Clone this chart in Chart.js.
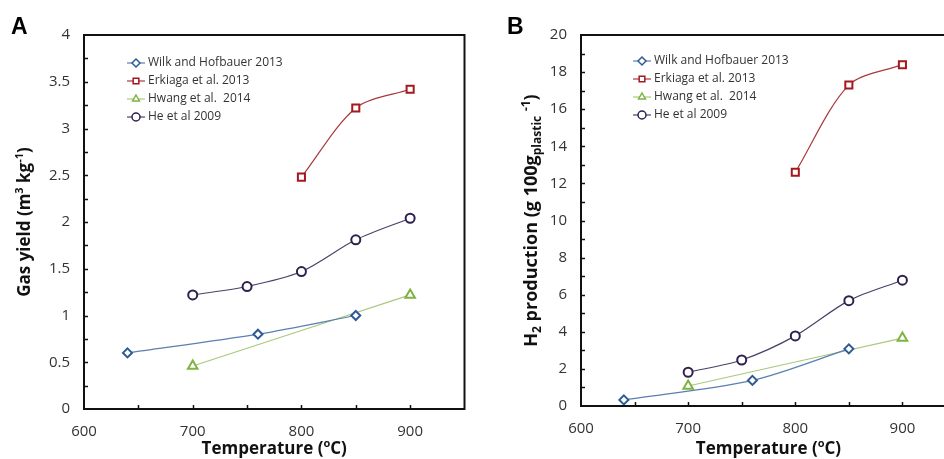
<!DOCTYPE html>
<html>
<head>
<meta charset="utf-8">
<script src="https://cdn.jsdelivr.net/npm/chart.js@4.4.1/dist/chart.umd.min.js"></script>
<style>
  html, body { margin: 0; padding: 0; background: #fff; overflow: hidden; width: 944px; height: 459px; }
  #panelA { position: absolute; left: 0; top: 0; }
  #panelB { position: absolute; left: 472px; top: 0; }
</style>
</head>
<body>
<canvas id="panelA" width="472" height="459"></canvas>
<canvas id="panelB" width="500" height="459"></canvas>
<script>
// series info
const seriesNames = ['Wilk and Hofbauer 2013', 'Erkiaga et al. 2013', 'Hwang et al.  2014', 'He et al 2009'];
const markColors = ['#2f5a96', '#a3191e', '#7fb342', '#2e2150'];
const lineColors = ['#5b7fb1', '#a8393d', '#a9c97c', '#4b4169'];
const pointStyles = ['rectRot', 'rect', 'triangle', 'circle'];
const pointRadii = [4.5, 5, 5.5, 4.5];

// temperatures (°C)
const wilkTemps = [640, 760, 850];
const erkiagaTemps = [800, 850, 900];
const hwangTemps = [700, 900];
const heTemps = [700, 750, 800, 850, 900];

// gas yield (m3/kg)
const wilkGas = [0.60, 0.80, 1.00];
const erkiagaGas = [2.48, 3.22, 3.42];
const hwangGas = [0.46, 1.22];
const heGas = [1.22, 1.31, 1.47, 1.81, 2.04];

// H2 production (g / 100 g plastic)
const wilkH2 = [0.33, 1.38, 3.08];
const erkiagaH2 = [12.6, 17.3, 18.4];
const hwangH2 = [1.08, 3.66];
const heH2 = [1.82, 2.48, 3.78, 5.68, 6.78];

const tempTicks = [600, 700, 800, 900];

const FONT = "'Open Sans', 'Noto Sans', sans-serif";

function series(temps, values, i) {
    return {
        label: seriesNames[i],
        data: temps.map((t, k) => ({ x: t, y: values[k] })),
        borderColor: lineColors[i],
        borderWidth: 1.2,
        pointStyle: pointStyles[i],
        pointRadius: pointRadii[i],
        pointHoverRadius: pointRadii[i],
        pointBorderColor: markColors[i],
        pointBackgroundColor: '#fff',
        pointBorderWidth: 2,
        tension: 0.3,
        fill: false,
    };
}

// text with sub/superscripts: parts = [text, scale, shift]
function drawRich(ctx, parts, cx, cy, size, weight, rotate) {
    ctx.save();
    ctx.translate(cx, cy);
    if (rotate) ctx.rotate(-Math.PI / 2);
    let total = 0;
    parts.forEach(p => {
        ctx.font = weight + ' ' + Math.round(size * p[1]) + 'px ' + FONT;
        total += ctx.measureText(p[0]).width;
    });
    let x = -total / 2;
    ctx.fillStyle = '#111';
    ctx.textBaseline = 'middle';
    ctx.textAlign = 'left';
    parts.forEach(p => {
        ctx.font = weight + ' ' + Math.round(size * p[1]) + 'px ' + FONT;
        ctx.fillText(p[0], x, p[2] * size);
        x += ctx.measureText(p[0]).width;
    });
    ctx.restore();
}

function marker(ctx, style, x, y, r) {
    ctx.beginPath();
    if (style === 'rectRot') {
        ctx.moveTo(x, y - r); ctx.lineTo(x + r, y); ctx.lineTo(x, y + r); ctx.lineTo(x - r, y); ctx.closePath();
    } else if (style === 'rect') {
        const s = r * Math.SQRT1_2;
        ctx.rect(x - s, y - s, 2 * s, 2 * s);
    } else if (style === 'triangle') {
        ctx.moveTo(x, y - r); ctx.lineTo(x + r * 0.866, y + r * 0.5); ctx.lineTo(x - r * 0.866, y + r * 0.5); ctx.closePath();
    } else {
        ctx.arc(x, y, r, 0, Math.PI * 2);
    }
    ctx.fill();
    ctx.stroke();
}

const decor = {
    id: 'decor',
    afterDraw(chart, args, o) {
        const ctx = chart.ctx;
        const a = chart.chartArea;
        const xs = chart.scales.x, ys = chart.scales.y;
        ctx.save();
        // frame
        ctx.strokeStyle = '#111';
        ctx.lineWidth = 2;
        ctx.strokeRect(a.left, a.top, a.right - a.left, a.bottom - a.top);
        // inward ticks
        ctx.lineWidth = 1.5;
        ctx.beginPath();
        for (let v = xs.min + o.xMinor; v < xs.max; v += o.xMinor) {
            const px = Math.round(xs.getPixelForValue(v)) + 0.5;
            ctx.moveTo(px, a.bottom); ctx.lineTo(px, a.bottom - 4);
        }
        for (let v = ys.min + o.yMinor; v < ys.max - 1e-9; v += o.yMinor) {
            const py = Math.round(ys.getPixelForValue(v)) + 0.5;
            ctx.moveTo(a.left, py); ctx.lineTo(a.left + 4, py);
        }
        ctx.stroke();

        // legend inside plot
        chart.data.datasets.forEach((ds, i) => {
            const y = a.top + o.legendTop + i * 18;
            const x0 = a.left + o.legendLeft;
            ctx.strokeStyle = lineColors[i];
            ctx.lineWidth = 1.2;
            ctx.beginPath(); ctx.moveTo(x0, y); ctx.lineTo(x0 + 18, y); ctx.stroke();
            ctx.strokeStyle = markColors[i];
            ctx.fillStyle = '#fff';
            ctx.lineWidth = 1.5;
            marker(ctx, pointStyles[i], x0 + 9, y, 4);
            ctx.fillStyle = '#333';
            ctx.font = '12px ' + FONT;
            ctx.textBaseline = 'middle';
            ctx.fillText(ds.label, x0 + 21, y);
        });

        // panel letter
        ctx.fillStyle = '#000';
        ctx.font = 'bold 23px Arial, "Liberation Sans", sans-serif';
        ctx.textBaseline = 'alphabetic';
        ctx.fillText(o.letter, o.letterX, 34);
        ctx.restore();

        // axis titles
        drawRich(ctx, o.yTitle, o.yTitleX, (a.top + a.bottom) / 2, o.yTitleSize, 'bold', true);
        drawRich(ctx, [['Temperature (', 1, 0], ['o', 0.65, -0.3], ['C)', 1, 0]],
            (a.left + a.right) / 2, 449, 17, 'bold', false);
    }
};

function makeChart(id, datasets, yMax, yStep, sizes, decorOpts) {
    return new Chart(document.getElementById(id), {
        type: 'line',
        data: { datasets: datasets },
        plugins: [decor],
        options: {
            responsive: false,
            animation: false,
            events: [],
            layout: { padding: sizes.padding },
            plugins: {
                legend: { display: false },
                tooltip: { enabled: false },
                decor: decorOpts,
            },
            scales: {
                x: {
                    type: 'linear',
                    min: 600,
                    max: 950,
                    grid: { display: false, drawTicks: false },
                    border: { display: false },
                    afterBuildTicks: s => { s.ticks = tempTicks.map(v => ({ value: v })); },
                    afterFit: s => { s.height = sizes.xHeight; },
                    ticks: { padding: 14, color: '#333', font: { family: FONT, size: 15 }, maxRotation: 0 },
                },
                y: {
                    min: 0,
                    max: yMax,
                    grid: { display: false, drawTicks: false },
                    border: { display: false },
                    afterFit: s => { s.width = sizes.yWidth; },
                    ticks: {
                        stepSize: yStep, padding: 14, color: '#333', font: { family: FONT, size: 15 },
                        callback: v => String(+v.toFixed(2)),
                    },
                },
            },
        },
    });
}

makeChart('panelA', [
    series(wilkTemps, wilkGas, 0),
    series(erkiagaTemps, erkiagaGas, 1),
    series(hwangTemps, hwangGas, 2),
    series(heTemps, heGas, 3),
], 4, 0.5, { padding: { left: 44, top: 35, right: 7, bottom: 0 }, yWidth: 40, xHeight: 50 }, {
    letter: 'A', letterX: 11, xMinor: 50, yMinor: 0.25, legendLeft: 43, legendTop: 28,
    yTitleX: 25, yTitleSize: 17,
    yTitle: [['Gas yield (m', 1, 0], ['3', 0.65, -0.3], [' kg', 1, 0], ['-1', 0.65, -0.3], [')', 1, 0]],
});

makeChart('panelB', [
    series(wilkTemps, wilkH2, 0),
    series(erkiagaTemps, erkiagaH2, 1),
    series(hwangTemps, hwangH2, 2),
    series(heTemps, heH2, 3),
], 20, 2, { padding: { left: 69, top: 35, right: 16, bottom: 0 }, yWidth: 40, xHeight: 53 }, {
    letter: 'B', letterX: 35, xMinor: 50, yMinor: 1, legendLeft: 52, legendTop: 26,
    yTitleX: 60, yTitleSize: 17.5,
    yTitle: [['H', 1, 0], ['2', 0.7, 0.3], [' production (g 100g', 1, 0], ['plastic', 0.7, 0.3], [' ', 1, 0], ['-1', 0.7, -0.3], [')', 1, 0]],
});
</script>
</body>
</html>
